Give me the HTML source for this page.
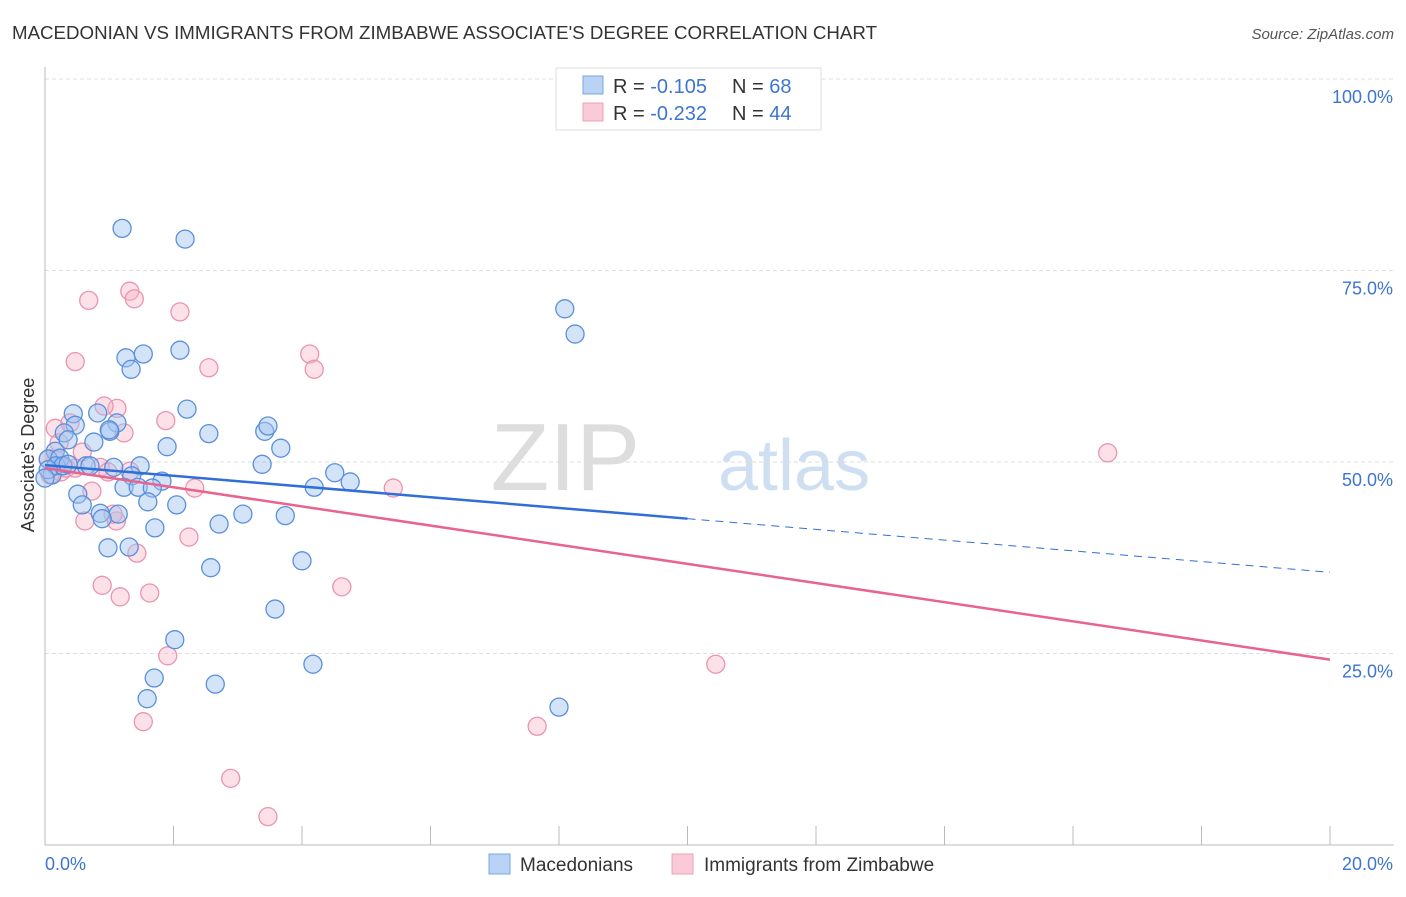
<!DOCTYPE html>
<html><head><meta charset="utf-8"><style>
body{margin:0;background:#fff;font-family:"Liberation Sans",sans-serif;}
svg text{font-family:"Liberation Sans",sans-serif;}
</style></head><body>
<svg id="chart" width="1406" height="892">
<text x="12" y="39" font-size="18" fill="#333" textLength="865" lengthAdjust="spacingAndGlyphs">MACEDONIAN VS IMMIGRANTS FROM ZIMBABWE ASSOCIATE'S DEGREE CORRELATION CHART</text>
<text x="1394" y="39" font-size="15" fill="#555" text-anchor="end" font-style="italic">Source: ZipAtlas.com</text>
<text x="640" y="490" font-size="96" fill="#ddd" font-family="Liberation Serif" text-anchor="end">ZIP</text>
<text x="718" y="490" font-size="72" fill="#cfdff2">atlas</text>
<g id="grid"></g>
<g id="axes"></g>
<g id="pts"></g>
<g id="trends"></g>
<text transform="translate(34,455) rotate(-90)" font-size="18" fill="#333" text-anchor="middle">Associate's Degree</text>
<g>
<rect x="556" y="68" width="265" height="62" fill="#fff" stroke="#ddd"/>
<rect x="583" y="76" width="20" height="18" fill="#b9d3f5" stroke="#7aa6e0"/>
<rect x="583" y="103" width="20" height="18" fill="#fbcad8" stroke="#eca0b6"/>
<text x="613" y="93" font-size="20" fill="#333">R = <tspan fill="#3d75d0">-0.105</tspan><tspan x="732">N = </tspan><tspan fill="#3d75d0">68</tspan></text>
<text x="613" y="120" font-size="20" fill="#333">R = <tspan fill="#3d75d0">-0.232</tspan><tspan x="732">N = </tspan><tspan fill="#3d75d0">44</tspan></text>
</g>
<g>
<rect x="489" y="854" width="21" height="20" fill="#b9d3f5" stroke="#7aa6e0"/>
<text x="520" y="871" font-size="19" fill="#333">Macedonians</text>
<rect x="672" y="854" width="21" height="20" fill="#fbcad8" stroke="#eca0b6"/>
<text x="704" y="871" font-size="19" fill="#333">Immigrants from Zimbabwe</text>
</g>
</svg>
<script>
const blueX=[1.20,2.18,8.09,8.25,1.26,1.53,2.10,1.34,0.44,0.82,2.21,0.47,1.12,1.01,0.30,2.55,3.42,3.47,0.36,0.76,1.90,3.67,0.16,0.05,0.23,0.64,1.07,1.48,3.38,4.51,4.75,1.35,1.82,1.23,1.45,1.67,4.19,0.51,0.58,1.60,2.05,0.86,1.14,0.89,2.71,3.08,3.74,1.71,0.98,1.31,4.00,2.58,3.58,2.02,4.17,1.70,2.65,1.59,8.00,0.11,0.17,0.28,0.36,0.05,0.70,1.00,0.00];
const blueY=[80.5,79.1,70.0,66.7,63.6,64.1,64.6,62.1,56.3,56.4,56.9,54.8,55.1,54.0,53.8,53.7,54.0,54.7,52.9,52.6,52.0,51.8,51.4,50.4,50.5,49.5,49.3,49.5,49.7,48.6,47.4,48.2,47.5,46.7,46.7,46.6,46.7,45.8,44.4,44.8,44.4,43.3,43.2,42.6,41.9,43.2,43.0,41.4,38.8,38.9,37.1,36.2,30.8,26.8,23.6,21.8,21.0,19.1,18.0,48.3,49.5,49.5,49.7,49.0,49.5,54.2,47.9];
const pinkX=[0.68,1.32,1.39,2.10,0.47,2.55,4.12,4.19,1.12,0.92,1.88,0.16,0.39,1.23,0.22,0.58,0.17,0.86,1.32,0.98,0.25,0.33,0.73,2.33,5.42,0.62,1.11,1.06,2.24,1.43,0.89,1.17,1.63,4.62,1.91,1.53,7.66,2.89,3.47,10.44,16.54,0.08,0.47,0.05];
const pinkY=[71.1,72.3,71.3,69.6,63.1,62.3,64.1,62.1,57.0,57.3,55.4,54.4,55.1,53.8,52.5,51.3,50.3,49.3,48.8,48.7,48.7,49.2,46.2,46.6,46.6,42.3,42.3,43.2,40.2,38.1,33.9,32.4,32.9,33.7,24.7,16.1,15.5,8.7,3.7,23.6,51.2,48.3,49.2,50.3];
const blueTrend=[49.6,35.6];
const pinkTrend=[49.2,24.2];
const yTicks=[25,50,75,100];
const yTickLabels=["25.0%","50.0%","75.0%","100.0%"];
const xTicks=[0,2,4,6,8,10,12,14,16,18,20];

const NS="http://www.w3.org/2000/svg";
const sx=v=>45+v*64.25, sy=v=>845-v*7.66;
function mk(tag,parent,attrs){const e=document.createElementNS(NS,tag);for(const k in attrs)e.setAttribute(k,attrs[k]);document.getElementById(parent).appendChild(e);return e;}
yTicks.forEach((t,i)=>{
  const l=mk('line','grid',{x1:45,x2:1394,y1:sy(t),y2:sy(t),stroke:'#ddd','stroke-dasharray':'4,3'});
  
  
  const tx=mk('text','grid',{x:1393,y:sy(t)+24,'font-size':18,fill:'#3d75d0','text-anchor':'end'});
  tx.textContent=yTickLabels[i];
  
  
});
const ax=mk('line','axes',{x1:45,x2:1394,y1:845,y2:845,stroke:'#bbb'});


const ay=mk('line','axes',{x1:45,x2:45,y1:67,y2:845,stroke:'#bbb'});


xTicks.forEach(t=>{
  const l=mk('line','axes',{x1:sx(t),x2:sx(t),y1:826,y2:845,stroke:'#bbb'});
  
  
});
const x0=mk('text','axes',{x:45,y:870,'font-size':18,fill:'#3d75d0'});x0.textContent='0.0%';


const x1=mk('text','axes',{x:1393,y:870,'font-size':18,fill:'#3d75d0','text-anchor':'end'});x1.textContent='20.0%';


pinkX.forEach((x,i)=>{
  const c=mk('circle','pts',{cx:sx(x),cy:sy(pinkY[i]),r:9,fill:'rgba(248,180,200,0.4)',stroke:'#eb94ae','stroke-width':1.3});
  
  
});
blueX.forEach((x,i)=>{
  const c=mk('circle','pts',{cx:sx(x),cy:sy(blueY[i]),r:9,fill:'rgba(160,195,240,0.45)',stroke:'#5a8fdc','stroke-width':1.3});
  
  
});
const bAt=v=>blueTrend[0]+(blueTrend[1]-blueTrend[0])*v/20;
const b1=mk('line','trends',{x1:sx(0),y1:sy(bAt(0)),x2:sx(10),y2:sy(bAt(10)),stroke:'#2f6fd6','stroke-width':2.5});


const b2=mk('line','trends',{x1:sx(10),y1:sy(bAt(10)),x2:sx(20),y2:sy(bAt(20)),stroke:'#2f6fd6','stroke-width':1,'stroke-dasharray':'8,6'});


const p1=mk('line','trends',{x1:sx(0),y1:sy(pinkTrend[0]),x2:sx(20),y2:sy(pinkTrend[1]),stroke:'#e8648e','stroke-width':2.5});


</script>
</body></html>
